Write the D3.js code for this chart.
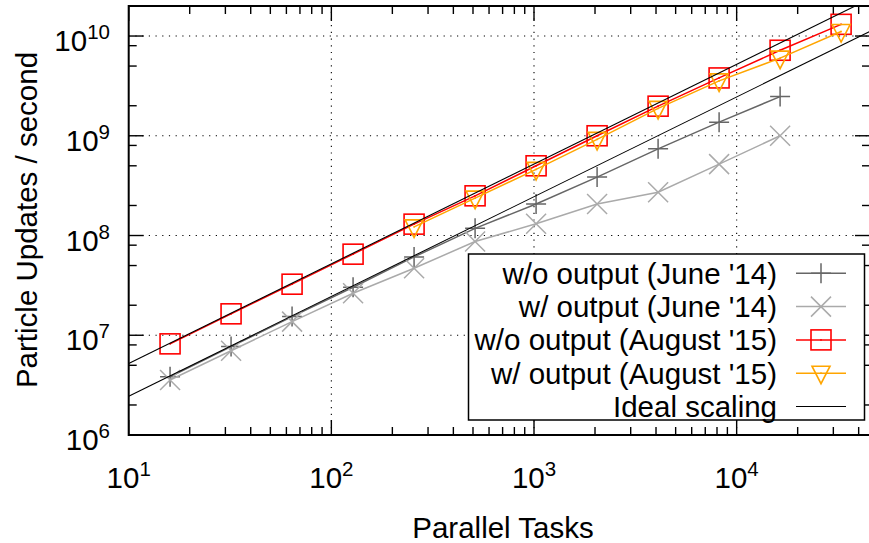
<!DOCTYPE html>
<html>
<head>
<meta charset="utf-8">
<script src="https://cdn.jsdelivr.net/npm/d3@7"></script>
<style>
  html, body { margin: 0; padding: 0; background: #fff; }
  svg { display: block; }
  text { font-family: "Liberation Sans", Arial, Helvetica, sans-serif; fill: #000; }
</style>
</head>
<body>
<svg id="chart" width="869" height="543"></svg>
<script>
// Parallel task counts (x) and particle update rates (y)
const tasks = [16, 32, 64, 128, 256, 512, 1024, 2048, 4096, 8192, 16384, 32768];
const woOutputJune14 = [3.84e6, 7.7e6, 1.54e7, 3.03e7, 6.1e7, 1.18e8, 2.07e8, 3.85e8, 7.4e8, 1.37e9, 2.47e9];
const wOutputJune14 = [3.56e6, 7.0e6, 1.37e7, 2.64e7, 4.7e7, 8.7e7, 1.31e8, 2.07e8, 2.72e8, 5.2e8, 1.0e9];
const woOutputAug15 = [8.2e6, 1.64e7, 3.25e7, 6.5e7, 1.3e8, 2.5e8, 5.0e8, 1.0e9, 1.98e9, 3.8e9, 7.2e9, 1.31e10];
const wOutputAug15 = [null, null, null, null, 1.22e8, 2.37e8, 4.6e8, 9.2e8, 1.88e9, 3.55e9, 6.0e9, 1.11e10];
// Ideal scaling: updates per second per task
const idealRates = [5.2e5, 2.45e5];

const xMajor = [10, 100, 1000, 10000];
const xMajorExp = ["1", "2", "3", "4"];
const yMajor = [1e6, 1e7, 1e8, 1e9, 1e10];
const yMajorExp = ["6", "7", "8", "9", "10"];

const seriesNames = ["w/o output (June '14)", "w/ output (June '14)", "w/o output (August '15)", "w/ output (August '15)", "Ideal scaling"];
const seriesColors = ["#666666", "#aaaaaa", "#ff0000", "#ffa500", "#000000"];
const seriesMarks = ["plus", "cross", "square", "triangle", "none"];

const L = 128.7, R = 870, T = 6, B = 435;
const x = d3.scaleLog().domain([10, 45500]).range([L, R]);
const y = d3.scaleLog().domain([1e6, 2e10]).range([B, T]);

const svg = d3.select("#chart");

// clip for data inside the frame
svg.append("defs").append("clipPath").attr("id", "plotclip")
  .append("rect").attr("x", L).attr("y", T).attr("width", R - L).attr("height", B - T);

// dotted grid at major ticks
const grid = svg.append("g").attr("stroke", "#000").attr("stroke-width", 1.1)
  .attr("stroke-dasharray", "1.2,5.5");
xMajor.filter(v => v > 10).forEach(v => {
  grid.append("line").attr("x1", x(v)).attr("x2", x(v)).attr("y1", B).attr("y2", T);
});
yMajor.filter(v => v > 1e6).forEach(v => {
  grid.append("line").attr("x1", L).attr("x2", R).attr("y1", y(v)).attr("y2", y(v));
});

// tick marks (mirrored on all four sides)
const ticks = svg.append("g").attr("stroke", "#000").attr("stroke-width", 1.4);
const xMinor = [];
[10, 100, 1000, 10000].forEach(d => { for (let k = 2; k <= 9; k++) { const v = d * k; if (v <= 45500) xMinor.push(v); } });
const yMinor = [];
[1e6, 1e7, 1e8, 1e9, 1e10].forEach(d => { [2, 5, 8].forEach(k => { const v = d * k; if (v <= 2e10) yMinor.push(v); }); });
const MAJ = 15, MIN = 8;
xMajor.forEach(v => {
  ticks.append("line").attr("x1", x(v)).attr("x2", x(v)).attr("y1", B).attr("y2", B - MAJ);
  ticks.append("line").attr("x1", x(v)).attr("x2", x(v)).attr("y1", T).attr("y2", T + MAJ);
});
xMinor.forEach(v => {
  ticks.append("line").attr("x1", x(v)).attr("x2", x(v)).attr("y1", B).attr("y2", B - MIN);
  ticks.append("line").attr("x1", x(v)).attr("x2", x(v)).attr("y1", T).attr("y2", T + MIN);
});
yMajor.forEach(v => {
  ticks.append("line").attr("x1", L).attr("x2", L + MAJ).attr("y1", y(v)).attr("y2", y(v));
  ticks.append("line").attr("x1", R).attr("x2", R - MAJ).attr("y1", y(v)).attr("y2", y(v));
});
yMinor.forEach(v => {
  ticks.append("line").attr("x1", L).attr("x2", L + MIN).attr("y1", y(v)).attr("y2", y(v));
  ticks.append("line").attr("x1", R).attr("x2", R - MIN).attr("y1", y(v)).attr("y2", y(v));
});

// data layer
const data = svg.append("g").attr("clip-path", "url(#plotclip)");

function drawMark(g, kind, cx, cy, color) {
  if (kind === "plus") {
    g.append("path").attr("d", `M${cx - 10},${cy}H${cx + 10}M${cx},${cy - 10}V${cy + 10}`)
      .attr("stroke", color).attr("stroke-width", 1.5).attr("fill", "none");
  } else if (kind === "cross") {
    g.append("path").attr("d", `M${cx - 10},${cy - 10}L${cx + 10},${cy + 10}M${cx - 10},${cy + 10}L${cx + 10},${cy - 10}`)
      .attr("stroke", color).attr("stroke-width", 1.5).attr("fill", "none");
  } else if (kind === "square") {
    g.append("rect").attr("x", cx - 10).attr("y", cy - 10).attr("width", 20).attr("height", 20)
      .attr("stroke", color).attr("stroke-width", 1.6).attr("fill", "none");
    g.append("rect").attr("x", cx - 0.8).attr("y", cy - 0.8).attr("width", 1.6).attr("height", 1.6).attr("fill", color);
  } else if (kind === "triangle") {
    g.append("path").attr("d", `M${cx - 9},${cy - 7}L${cx + 9},${cy - 7}L${cx},${cy + 10.5}Z`)
      .attr("stroke", color).attr("stroke-width", 1.6).attr("fill", "none");
    g.append("rect").attr("x", cx - 0.8).attr("y", cy - 0.8).attr("width", 1.6).attr("height", 1.6).attr("fill", color);
  }
}

const allSeries = [woOutputJune14, wOutputJune14, woOutputAug15, wOutputAug15];
const line = d3.line().defined(d => d[1] != null).x(d => x(d[0])).y(d => y(d[1]));

allSeries.forEach((vals, i) => {
  const pts = vals.map((v, j) => [tasks[j], v]).filter(d => d[1] != null);
  const g = data.append("g");
  g.append("path").attr("d", line(pts)).attr("fill", "none")
    .attr("stroke", seriesColors[i]).attr("stroke-width", 1.5);
  pts.forEach(d => drawMark(g, seriesMarks[i], x(d[0]), y(d[1]), seriesColors[i]));
});

// ideal scaling lines across the whole x range
const xDom = x.domain();
idealRates.forEach(r => {
  data.append("path")
    .attr("d", line([[xDom[0], xDom[0] * r], [xDom[1], xDom[1] * r]]))
    .attr("fill", "none").attr("stroke", "#000").attr("stroke-width", 1.1);
});

// frame
svg.append("path")
  .attr("d", `M${R},${T}H${L}V${B}H${R}`)
  .attr("fill", "none").attr("stroke", "#000").attr("stroke-width", 2);
svg.append("line").attr("x1", R).attr("x2", R).attr("y1", T).attr("y2", B)
  .attr("stroke", "#000").attr("stroke-width", 2);

// tick labels with superscript exponents
const FS = 29.5, SUP = 20.5;
xMajor.forEach((v, i) => {
  const t = svg.append("text").attr("x", x(v)).attr("y", 488).attr("text-anchor", "middle")
    .attr("font-size", FS);
  t.append("tspan").text("10");
  t.append("tspan").attr("font-size", SUP).attr("dy", -12).text(xMajorExp[i]);
});
yMajor.forEach((v, i) => {
  const t = svg.append("text").attr("x", 110).attr("y", y(v) + 15).attr("text-anchor", "end")
    .attr("font-size", FS);
  t.append("tspan").text("10");
  t.append("tspan").attr("font-size", SUP).attr("dy", -12).text(yMajorExp[i]);
});

// axis titles
svg.append("text").attr("x", 503).attr("y", 537.5).attr("text-anchor", "middle")
  .attr("font-size", FS).text("Parallel Tasks");
svg.append("text").attr("transform", "translate(37,220) rotate(-90)").attr("text-anchor", "middle")
  .attr("font-size", FS).text("Particle Updates / second");

// legend
const lg = svg.append("g");
lg.append("rect").attr("x", 468.5).attr("y", 254).attr("width", 396).attr("height", 166)
  .attr("fill", "#fff").attr("stroke", "#000").attr("stroke-width", 1.5);
seriesNames.forEach((name, i) => {
  const cy = 273.3 + i * 33.3;
  lg.append("text").attr("x", 777).attr("y", cy + 10.5).attr("text-anchor", "end")
    .attr("font-size", FS).text(name);
  lg.append("line").attr("x1", 796).attr("x2", 846).attr("y1", cy).attr("y2", cy)
    .attr("stroke", seriesColors[i]).attr("stroke-width", i === 4 ? 1.1 : 1.5);
  drawMark(lg, seriesMarks[i], 821, cy, seriesColors[i]);
});
</script>
</body>
</html>
